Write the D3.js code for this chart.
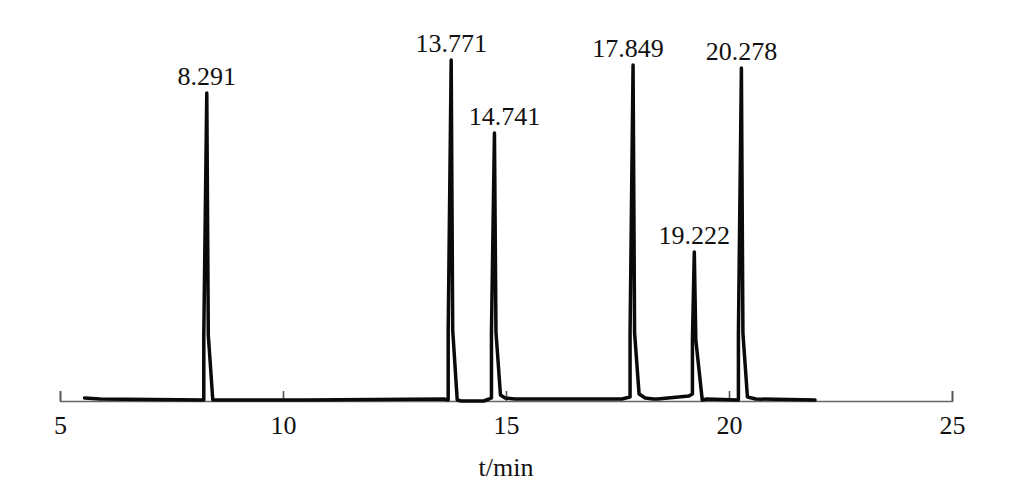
<!DOCTYPE html>
<html>
<head>
<meta charset="utf-8">
<script src="https://cdn.jsdelivr.net/npm/d3@7"></script>
<style>
  html, body { margin: 0; padding: 0; background: #fff; }
  svg { display: block; }
</style>
</head>
<body>
<svg id="chart" width="1017" height="481"></svg>
<script>
// ---- data ----
const tickValues = [5, 10, 15, 20, 25];
const xTitle = "t/min";

const peakTimes   = [8.291, 13.771, 14.741, 17.849, 19.222, 20.278];
const peakHeights = [307, 340, 267, 335, 148, 332];
const peakLabels  = ["8.291", "13.771", "14.741", "17.849", "19.222", "20.278"];

const traceTime = [
  5.55, 5.9, 8.224, 8.224, 8.291, 8.325, 8.426, 10.5,
  13.6, 13.704, 13.704, 13.771, 13.805, 13.906, 14.0, 14.5,
  14.62, 14.674, 14.674, 14.741, 14.775, 14.876, 14.98, 15.2,
  17.6, 17.782, 17.782, 17.849, 17.883, 17.984, 18.12, 18.3,
  18.4, 19.1, 19.18, 19.18, 19.222, 19.256, 19.40, 19.5,
  20.211, 20.211, 20.278, 20.312, 20.413, 20.6, 21.93
];
const traceSignal = [
  2, 1, 0, 65, 307, 65, 0, 0,
  1, 0, 70, 340, 70, 0, -1, -1,
  1, 2, 68, 267, 68, 5, 2, 1,
  1, 3, 67, 335, 67, 6, 2, 1,
  1, 4, 6, 60, 148, 60, 0, 1,
  0, 67, 332, 67, 3, 1, 0
];

// ---- layout / style ----
const FONT = "'Liberation Serif', 'Times New Roman', serif";
const labelNudge = { "14.741": 10, "17.849": -5 };

const svg = d3.select("#chart");
svg.append("rect").attr("width", 1017).attr("height", 481).attr("fill", "#fff");

const x = d3.scaleLinear().domain([5, 25]).range([60, 952]);
const y = d3.scaleLinear().domain([0, 340]).range([400, 60]);

// axis
const axisG = svg.append("g")
  .attr("transform", "translate(0,401)")
  .call(d3.axisBottom(x)
    .tickValues(tickValues)
    .tickSizeInner(-10)
    .tickSizeOuter(-10)
    .tickFormat(d3.format("d")));
axisG.select(".domain").attr("stroke", "#666").attr("stroke-width", 1.6);
axisG.selectAll(".tick line").attr("stroke", "#555").attr("stroke-width", 1.6);
axisG.selectAll(".tick text")
  .attr("y", 33).attr("dy", null)
  .attr("fill", "#111")
  .style("font-family", FONT).style("font-size", "26px");

// axis title
svg.append("text")
  .attr("x", x(15)).attr("y", 476)
  .attr("text-anchor", "middle")
  .attr("fill", "#111")
  .style("font-family", FONT).style("font-size", "26px")
  .text(xTitle);

// trace
const pts = traceTime.map((t, i) => [t, traceSignal[i]]);
svg.append("path")
  .datum(pts)
  .attr("fill", "none")
  .attr("stroke", "#0a0a0a")
  .attr("stroke-width", 3.5)
  .attr("stroke-linejoin", "round")
  .attr("stroke-linecap", "round")
  .attr("d", d3.line().x(d => x(d[0])).y(d => y(d[1])));

// peak labels
svg.selectAll("text.peak")
  .data(peakTimes.map((t, i) => ({ t, h: peakHeights[i], label: peakLabels[i] })))
  .join("text")
  .attr("class", "peak")
  .attr("x", d => x(d.t) + (labelNudge[d.label] || 0))
  .attr("y", d => y(d.h) - 8)
  .attr("text-anchor", "middle")
  .attr("fill", "#111")
  .style("font-family", FONT).style("font-size", "26px")
  .text(d => d.label);
</script>
</body>
</html>
